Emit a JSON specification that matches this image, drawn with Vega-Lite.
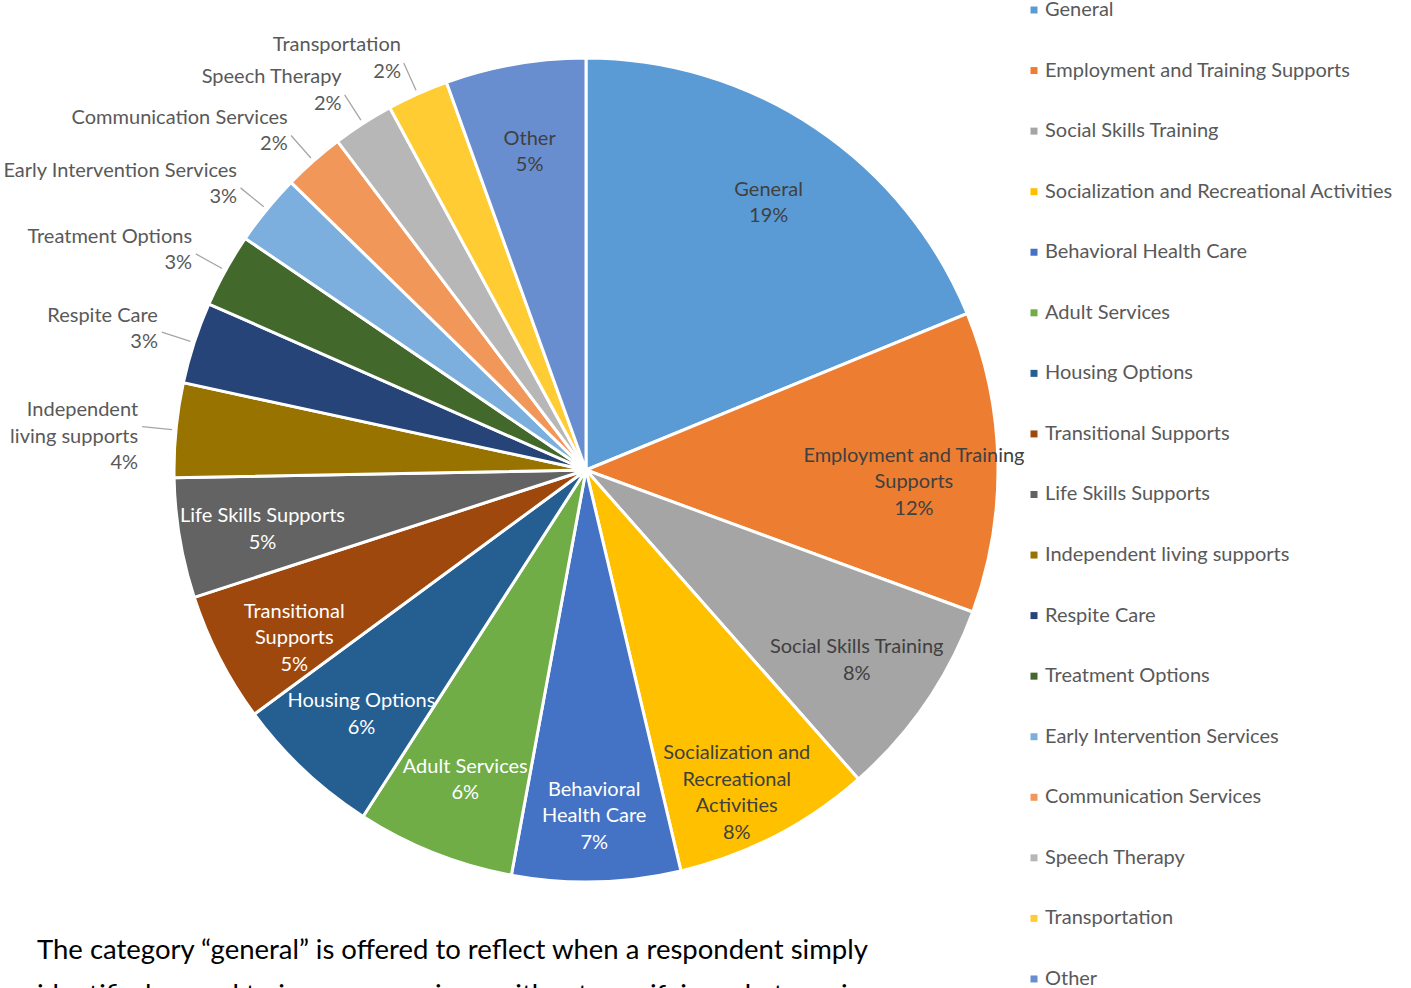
{
  "$schema": "https://vega.github.io/schema/vega-lite/v6.json",
  "autosize": "none",
  "width": 1172,
  "height": 940,
  "padding": {"left": 0, "top": 0, "right": 239, "bottom": 48},
  "background": "white",
  "config": {"view": {"stroke": null}, "font": "Lato"},
  "title": {
    "text": ["The category “general” is offered to reflect when a respondent simply", "identified a need to increase services, without specifying what service"],
    "orient": "bottom",
    "anchor": "start",
    "frame": "group",
    "offset": 0,
    "dx": 37,
    "dy": -52,
    "font": "Lato",
    "fontSize": 27.5,
    "fontWeight": "normal",
    "color": "#000000",
    "lineHeight": 45
  },
  "data": {
    "values": [
      {"idx": 1, "name": "General", "value": 18.8, "label": ["General", "19%"]},
      {"idx": 2, "name": "Employment and Training Supports", "value": 11.8, "label": ["Employment and Training", "Supports", "12%"]},
      {"idx": 3, "name": "Social Skills Training", "value": 7.9, "label": ["Social Skills Training", "8%"]},
      {"idx": 4, "name": "Socialization and Recreational Activities", "value": 7.8, "label": ["Socialization and", "Recreational", "Activities", "8%"]},
      {"idx": 5, "name": "Behavioral Health Care", "value": 6.6, "label": ["Behavioral", "Health Care", "7%"]},
      {"idx": 6, "name": "Adult Services", "value": 6.2, "label": ["Adult Services", "6%"]},
      {"idx": 7, "name": "Housing Options", "value": 5.8, "label": ["Housing Options", "6%"]},
      {"idx": 8, "name": "Transitional Supports", "value": 5.1, "label": ["Transitional", "Supports", "5%"]},
      {"idx": 9, "name": "Life Skills Supports", "value": 4.7, "label": ["Life Skills Supports", "5%"]},
      {"idx": 10, "name": "Independent living supports", "value": 3.7, "label": ["Independent", "living supports", "4%"]},
      {"idx": 11, "name": "Respite Care", "value": 3.2, "label": ["Respite Care", "3%"]},
      {"idx": 12, "name": "Treatment Options", "value": 2.9, "label": ["Treatment Options", "3%"]},
      {"idx": 13, "name": "Early Intervention Services", "value": 2.8, "label": ["Early Intervention Services", "3%"]},
      {"idx": 14, "name": "Communication Services", "value": 2.4, "label": ["Communication Services", "2%"]},
      {"idx": 15, "name": "Speech Therapy", "value": 2.4, "label": ["Speech Therapy", "2%"]},
      {"idx": 16, "name": "Transportation", "value": 2.4, "label": ["Transportation", "2%"]},
      {"idx": 17, "name": "Other", "value": 5.5, "label": ["Other", "5%"]}
    ]
  },
  "layer": [
    {
      "mark": {"type": "arc", "radius": 412, "stroke": "white", "strokeWidth": 3},
      "encoding": {
        "theta": {"field": "value", "type": "quantitative", "stack": true},
        "order": {"field": "idx", "type": "quantitative"},
        "color": {
          "field": "name",
          "type": "nominal",
          "scale": {
            "domain": ["General", "Employment and Training Supports", "Social Skills Training", "Socialization and Recreational Activities", "Behavioral Health Care", "Adult Services", "Housing Options", "Transitional Supports", "Life Skills Supports", "Independent living supports", "Respite Care", "Treatment Options", "Early Intervention Services", "Communication Services", "Speech Therapy", "Transportation", "Other"],
            "range": ["#5B9BD5", "#ED7D31", "#A5A5A5", "#FFC000", "#4472C4", "#70AD47", "#255E91", "#9E480E", "#636363", "#997300", "#264478", "#43682B", "#7CAFDD", "#F1975A", "#B7B7B7", "#FFCD33", "#698ED0"]
          },
          "legend": {
            "title": null,
            "orient": "none",
            "legendX": 1024,
            "legendY": 0,
            "padding": 0,
            "symbolType": "square",
            "symbolSize": 49,
            "symbolStrokeWidth": 0,
            "labelFont": "Lato",
            "labelFontSize": 20,
            "labelColor": "#595959",
            "labelLimit": 500,
            "labelOffset": 1,
            "rowPadding": 40.56
          }
        }
      }
    },
    {
      "mark": {"type": "arc", "radius": 446, "radius2": 416, "padAngle": 0.6, "filled": false, "strokeWidth": 1.3},
      "encoding": {
        "theta": {"field": "value", "type": "quantitative", "stack": true},
        "order": {"field": "idx", "type": "quantitative"},
        "detail": {"field": "name", "type": "nominal"},
        "stroke": {"condition": {"test": "datum.value < 4.2", "value": "#A6A6A6"}, "value": "transparent"}
      }
    },
    {
      "mark": {"type": "text", "radius": 328, "dy": -8, "font": "Lato", "fontSize": 20, "lineHeight": 26.5, "align": "center", "baseline": "middle"},
      "encoding": {
        "theta": {"field": "value", "type": "quantitative", "stack": true},
        "order": {"field": "idx", "type": "quantitative"},
        "detail": {"field": "name", "type": "nominal"},
        "text": {"condition": {"test": "datum.value >= 4.2", "field": "label"}, "value": ""},
        "color": {"condition": {"test": "indexof(['Behavioral Health Care','Adult Services','Housing Options','Transitional Supports','Life Skills Supports'], datum.name) >= 0", "value": "#FFFFFF"}, "value": "#404040"}
      }
    },
    {
      "mark": {"type": "text", "radius": 448, "dx": -2, "dy": -16, "font": "Lato", "fontSize": 20, "lineHeight": 26.5, "align": "right", "baseline": "middle", "color": "#595959"},
      "encoding": {
        "theta": {"field": "value", "type": "quantitative", "stack": true},
        "order": {"field": "idx", "type": "quantitative"},
        "detail": {"field": "name", "type": "nominal"},
        "text": {"condition": {"test": "datum.value < 4.2", "field": "label"}, "value": ""}
      }
    }
  ]
}
